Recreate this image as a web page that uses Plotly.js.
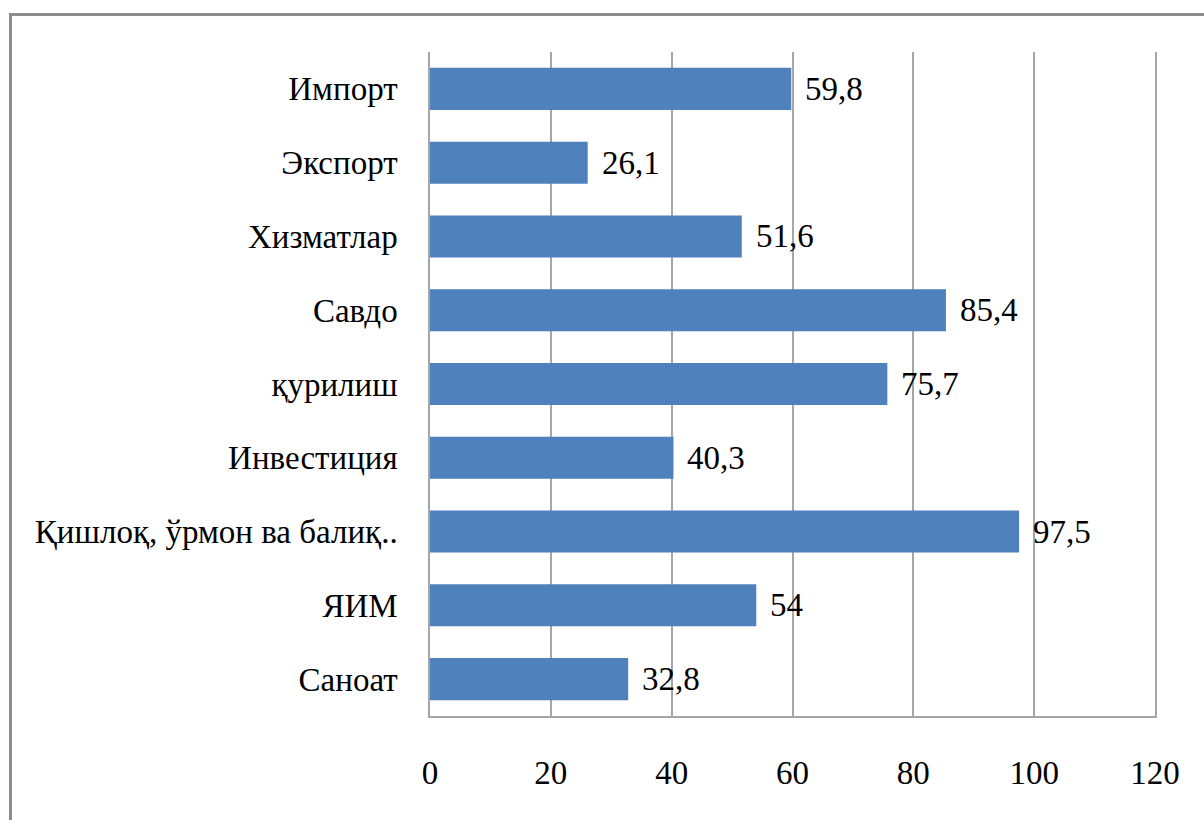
<!DOCTYPE html>
<html>
<head>
<meta charset="utf-8">
<script src="https://cdn.plot.ly/plotly-3.0.1.min.js"></script>
<style>
html,body{margin:0;padding:0;background:#fff;overflow:hidden;}
#frame{position:absolute;left:9px;top:13px;width:1220px;height:840px;border:3px solid #8c8c8c;box-sizing:border-box;}
#chart{position:absolute;left:0;top:0;width:1204px;height:820px;}
svg text{font-family:'Liberation Serif', serif !important;}
</style>
</head>
<body>
<div id="frame"></div>
<div id="chart"></div>
<script>
const categories = ["Саноат","ЯИМ","Қишлоқ, ўрмон ва балиқ..","Инвестиция","қурилиш","Савдо","Хизматлар","Экспорт","Импорт"];
const values = [32.8, 54, 97.5, 40.3, 75.7, 85.4, 51.6, 26.1, 59.8];
const xTicks = [0, 20, 40, 60, 80, 100, 120];

const labelTexts = values.map(v => String(v).replace('.', ','));
function mkFont() { return {family: 'Liberation Serif', size: 33, color: '#000000'}; }

const annotations = values.map((v, i) => ({
  x: v, y: categories[i], xref: 'x', yref: 'y',
  text: labelTexts[i], showarrow: false, xanchor: 'left', yanchor: 'middle',
  xshift: 12, font: mkFont()
}));

Plotly.newPlot('chart', [{
  type: 'bar', orientation: 'h',
  x: values, y: categories,
  marker: {color: '#4f81bd'},
  hoverinfo: 'none'
}], {
  width: 1204, height: 820,
  margin: {l: 430, r: 49, t: 52, b: 104, pad: 0},
  paper_bgcolor: 'rgba(0,0,0,0)', plot_bgcolor: 'rgba(0,0,0,0)',
  bargap: 0.43,
  showlegend: false,
  font: mkFont(),
  xaxis: {
    range: [0, 120], tickvals: xTicks, ticktext: xTicks.map(String),
    showgrid: true, gridcolor: '#a6a6a6', gridwidth: 1.5,
    zeroline: false, showline: true, linecolor: '#a6a6a6', linewidth: 1.5,
    ticks: 'outside', ticklen: 27, tickcolor: 'rgba(0,0,0,0)',
    tickfont: mkFont(), fixedrange: true
  },
  yaxis: {
    categoryorder: 'array', categoryarray: categories,
    showgrid: false, zeroline: false, showline: true, mirror: true,
    linecolor: '#a6a6a6', linewidth: 1.5,
    ticks: 'outside', ticklen: 24, tickcolor: 'rgba(0,0,0,0)',
    tickfont: mkFont(), fixedrange: true
  },
  annotations: annotations
}, {displayModeBar: false});
</script>
</body>
</html>
